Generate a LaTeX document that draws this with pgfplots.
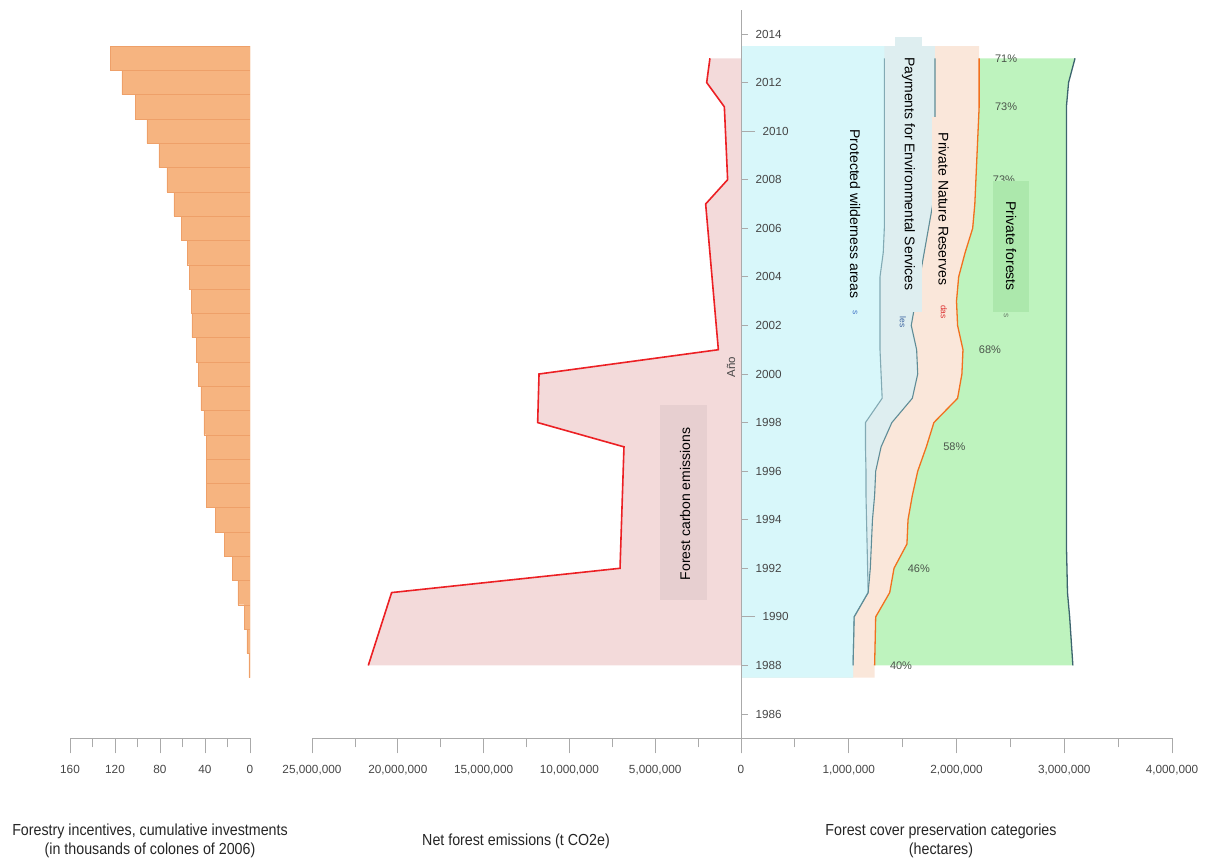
\documentclass[border=0pt]{standalone}
\usepackage{fontspec}
\setmainfont{Liberation Sans}
\newfontfamily\condfont{Liberation Sans}[FakeStretch=0.89]
\usepackage{pgfplots}
\pgfplotsset{compat=1.18}
\usepackage{pgfplotstable}

\definecolor{barfill}{RGB}{246,180,128}
\definecolor{bardraw}{RGB}{238,160,105}
\definecolor{axgray}{RGB}{170,170,170}
\definecolor{labgray}{RGB}{70,70,70}
\definecolor{emisfill}{RGB}{243,218,218}
\definecolor{emisline}{RGB}{236,32,36}
\definecolor{carbonbox}{RGB}{231,207,208}
\definecolor{protfill}{RGB}{216,247,250}
\definecolor{pesfill}{RGB}{222,238,240}
\definecolor{pnrfill}{RGB}{250,231,218}
\definecolor{pffill}{RGB}{190,243,190}
\definecolor{pfbox}{RGB}{172,232,172}
\definecolor{lineA}{RGB}{130,170,180}
\definecolor{lineB}{RGB}{95,140,150}
\definecolor{lineC}{RGB}{242,112,30}
\definecolor{lineD}{RGB}{60,100,110}
\definecolor{pctgray}{RGB}{75,85,75}

% cumulative forestry incentives (thousands of colones of 2006)
\pgfplotstableread{
year inv
1988 0.9
1989 2.7
1990 5.3
1991 10.7
1992 16.0
1993 23.1
1994 31.1
1995 39.1
1996 39.1
1997 39.1
1998 40.9
1999 43.6
2000 46.2
2001 48.0
2002 51.6
2003 52.4
2004 54.2
2005 56.0
2006 61.3
2007 67.6
2008 73.8
2009 80.9
2010 91.6
2011 102.2
2012 113.8
2013 124.4
}\bars

% net forest emissions, millions of t CO2e
\pgfplotstableread{
year emis
1988 21.72
1991 20.36
1992 7.05
1997 6.82
1998 11.85
2000 11.77
2001 1.32
2007 2.06
2008 0.78
2011 0.97
2012 2.00
2013 1.81
}\emis

% cumulative cover boundaries, millions of ha
% A protected, B +PES, C +private reserves, D +private forests
\pgfplotstableread{
year A B C D
1987.5 1.04 1.04 1.24 3.08
1988 1.04 1.04 1.24 3.08
1989 1.045 1.045 1.245 3.065
1990 1.05 1.05 1.25 3.05
1991 1.18 1.18 1.38 3.03
1992 1.175 1.20 1.42 3.025
1993 1.17 1.21 1.54 3.02
1994 1.165 1.22 1.55 3.02
1995 1.16 1.24 1.59 3.02
1996 1.16 1.25 1.64 3.02
1997 1.155 1.30 1.72 3.02
1998 1.155 1.40 1.79 3.02
1999 1.31 1.59 2.01 3.02
2000 1.30 1.64 2.05 3.02
2001 1.29 1.63 2.06 3.02
2002 1.29 1.58 2.01 3.02
2003 1.29 1.62 2.00 3.02
2004 1.29 1.66 2.02 3.02
2005 1.32 1.70 2.08 3.02
2006 1.33 1.74 2.15 3.02
2007 1.33 1.78 2.17 3.02
2008 1.33 1.79 2.18 3.02
2009 1.33 1.79 2.19 3.02
2010 1.33 1.80 2.20 3.02
2011 1.33 1.80 2.21 3.02
2012 1.33 1.80 2.21 3.04
2013 1.33 1.80 2.21 3.10
2013.5 1.33 1.80 2.21 3.10
}\cover

\begin{document}
\begin{tikzpicture}[x=1pt,y=1pt]
\useasboundingbox (0,0) rectangle (1209,859);
\pgfplotsset{
  base/.style={scale only axis, height=728.6pt, ymin=1985, ymax=2015,
    axis x line=bottom, axis y line=none,
    axis line style={draw=axgray,-,line width=0.8pt},
    tick align=outside, major tick length=15pt, minor tick length=9pt,
    tick style={axgray,line width=0.8pt},
    xticklabel style={font=\fontsize{11.8}{14}\selectfont, text=labgray, yshift=-8pt},
    /pgf/number format/assume math mode=true,
  },
}

% left: forestry incentives
\begin{axis}[base, at={(70pt,120.7pt)}, width=180pt,
  xmin=0, xmax=160, x dir=reverse,
  xtick={0,40,...,160}, minor xtick={20,60,...,140},
  xbar, bar width=1]
\addplot[fill=barfill, draw=bardraw, line width=0.4pt] table[x=inv,y=year]{\bars};
\end{axis}

% middle: emissions (plotted to the left of zero)
\begin{axis}[base, at={(312pt,120.7pt)}, width=429pt,
  xmin=-25, xmax=0,
  xtick={-25,-20,...,0}, minor xtick={-22.5,-17.5,...,-2.5},
  xticklabels={{25,000,000},{20,000,000},{15,000,000},{10,000,000},{5,000,000},{}}]
\addplot[fill=emisfill, draw=none] table[x expr=-\thisrow{emis},y=year]{\emis}
  -- (axis cs:0,2013) -- (axis cs:0,1988) -- cycle;
\addplot[emisline, line width=1.6pt] table[x expr=-\thisrow{emis},y=year]{\emis};
\end{axis}

% right: forest cover categories, stacked fills drawn back to front
\begin{axis}[base, at={(741pt,120.7pt)}, width=431pt,
  xmin=0, xmax=4,
  xtick={0,1,2,3,4}, minor xtick={0.5,1.5,2.5,3.5},
  xticklabels={{0},{1,000,000},{2,000,000},{3,000,000},{4,000,000}}]
\addplot[fill=pffill, draw=none, restrict y to domain=1988:2013] table[x=D,y=year]{\cover}
  -- (axis cs:0,2013) -- (axis cs:0,1988) -- cycle;
\addplot[fill=pnrfill, draw=none] table[x=C,y=year]{\cover}
  -- (axis cs:0,2013.5) -- (axis cs:0,1987.5) -- cycle;
\addplot[fill=pesfill, draw=none] table[x=B,y=year]{\cover}
  -- (axis cs:0,2013.5) -- (axis cs:0,1987.5) -- cycle;
\addplot[fill=protfill, draw=none] table[x=A,y=year]{\cover}
  -- (axis cs:0,2013.5) -- (axis cs:0,1987.5) -- cycle;
\addplot[lineA, line width=1.1pt, restrict y to domain=1988:2013] table[x=A,y=year]{\cover};
\addplot[lineB, line width=1.1pt, restrict y to domain=1988:2013] table[x=B,y=year]{\cover};
\addplot[lineC, line width=1.3pt, restrict y to domain=1988:2013] table[x=C,y=year]{\cover};
\addplot[lineD, line width=1.3pt, restrict y to domain=1988:2013] table[x=D,y=year]{\cover};
\begin{scope}[every node/.style={font=\fontsize{11}{13}\selectfont, text=pctgray}]
\node at (axis cs:2.46,2013) {71\%};
\node at (axis cs:2.46,2011) {73\%};
\node at (axis cs:2.44,2008) {73\%};
\node at (axis cs:2.31,2001) {68\%};
\node at (axis cs:1.98,1997) {58\%};
\node at (axis cs:1.65,1992) {46\%};
\node at (axis cs:1.485,1988) {40\%};
\end{scope}
\end{axis}

% year axis
\begin{axis}[scale only axis, at={(731pt,120.7pt)}, width=10pt, height=728.6pt,
  xmin=0, xmax=1, ymin=1985, ymax=2015,
  axis x line=none, axis y line=right,
  axis line style={draw=axgray,-,line width=0.8pt},
  tick align=outside, major tick length=7pt,
  tick style={axgray,line width=0.8pt},
  ytick={1986,1988,1992,1994,1996,1998,2000,2002,2004,2006,2008,2012,2014},
  extra y ticks={1990,2010},
  extra y tick style={major tick length=14pt},
  yticklabel style={font=\fontsize{11.7}{14}\selectfont, text=labgray, xshift=4pt,
    /pgf/number format/1000 sep={}},
  /pgf/number format/assume math mode=true]
\addplot[draw=none] coordinates {(0,1985) (1,2015)};
\end{axis}
\node[rotate=90, font=\fontsize{11.5}{13}\selectfont, text=labgray] at (731,492) {Año};

% category labels
\fill[carbonbox] (660,259) rectangle (707,454);
\fill[pesfill] (895,547) rectangle (922,822);
\fill[pnrfill] (932,569) rectangle (955,742);
\fill[pfbox] (993,547) rectangle (1029,678);
\begin{scope}[every node/.style={font=\fontsize{14}{16}\selectfont}]
\node[rotate=90] at (685,355) {Forest carbon emissions};
\node[rotate=-90] at (855,645) {Protected wilderness areas};
\node[rotate=-90] at (908.5,685) {Payments for Environmental Services};
\node[rotate=-90] at (943.5,650) {Private Nature Reserves};
\node[rotate=-90] at (1011,613) {Private forests};
\end{scope}
\begin{scope}[every node/.style={font=\fontsize{8.5}{10}\selectfont, rotate=-90}]
\node[text={rgb,255:red,70;green,120;blue,200}] at (855,546) {s};
\node[text={rgb,255:red,60;green,100;blue,160}] at (903,537) {les};
\node[text={rgb,255:red,220;green,50;blue,50}] at (944,547) {das};
\node[text={rgb,255:red,110;green,130;blue,110}] at (1006,543) {s};
\end{scope}

% axis titles
\begin{scope}[every node/.style={font=\condfont\fontsize{16}{19}\selectfont, align=center, text=black!85}]
\node at (150,18.5) {Forestry incentives, cumulative investments\\(in thousands of colones of 2006)};
\node at (516,18) {Net forest emissions (t CO2e)};
\node at (941,18.5) {Forest cover preservation categories\\(hectares)};
\end{scope}
\end{tikzpicture}
\end{document}
